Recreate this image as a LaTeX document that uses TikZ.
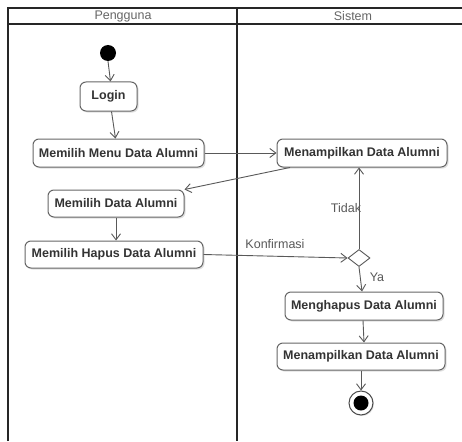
\documentclass[tikz,border=0pt]{standalone}
\usepackage{fontspec}
\setmainfont{Liberation Sans}
\usetikzlibrary{arrows.meta,shapes.geometric,shadows}
\begin{document}
\begin{tikzpicture}[x=1pt,y=-1pt,
  lane/.style={draw=black!85,line width=1.8pt},
  act/.style={draw=black!60,line width=1pt,rounded corners=6pt,fill=white,
    font=\fontsize{12.5}{15}\selectfont\bfseries,text=black!80,
    inner sep=0pt,
    drop shadow={shadow xshift=1.5pt,shadow yshift=-1.5pt,opacity=0.25,fill=black!50}},
  flow/.style={draw=black!65,line width=0.9pt,-{Straight Barb[length=6pt,width=9pt]}},
  lbl/.style={font=\fontsize{12.5}{15}\selectfont,text=black!65,inner sep=0pt},
  head/.style={font=\fontsize{12.5}{15}\selectfont,text=black!60,inner sep=0pt}]
\useasboundingbox (0,0) rectangle (462,441);
\fill[white] (0,0) rectangle (462,441);
% swimlane frame
\draw[lane] (8,441) -- (8,8) -- (462,8);
\draw[lane] (8,24) -- (462,24);
\draw[lane] (237,8) -- (237,441);
\node[head] (lanea) at (123,16) {Pengguna};
\node[head] (laneb) at (353,16) {Sistem};
% nodes
\node[circle,fill=black,minimum size=16pt,inner sep=0pt] (start) at (108,53) {};
\node[act,minimum width=57pt,minimum height=29pt] (login) at (108.5,96.5) {Login};
\node[act,minimum width=171pt,minimum height=28pt] (menu) at (118.5,153) {Memilih Menu Data Alumni};
\node[act,minimum width=170pt,minimum height=28pt] (tampil) at (362,153) {Menampilkan Data Alumni};
\node[act,minimum width=136pt,minimum height=27pt] (pilih) at (116,203.5) {Memilih Data Alumni};
\node[act,minimum width=178pt,minimum height=27pt] (hapus) at (114,254.5) {Memilih Hapus Data Alumni};
\node[diamond,draw=black!65,line width=0.9pt,fill=white,minimum width=22pt,minimum height=17pt,inner sep=0pt] (cek) at (359,258) {};
\node[act,minimum width=158pt,minimum height=28pt] (hps) at (364,306) {Menghapus Data Alumni};
\node[act,minimum width=168pt,minimum height=27pt] (tampilb) at (361,356.5) {Menampilkan Data Alumni};
\node[circle,draw=black!70,line width=1pt,fill=white,minimum size=24pt,inner sep=0pt,
  drop shadow={shadow xshift=1pt,shadow yshift=-1pt,opacity=0.25,fill=black!50}] (stop) at (361,403) {};
\node[circle,fill=black,minimum size=15pt,inner sep=0pt] (stopin) at (stop.center) {};
% connectors
\draw[flow] (start.south) -- ([xshift=2pt]login.north);
\draw[flow] ([xshift=3pt]login.south) -- ([xshift=-3pt]menu.north);
\draw[flow] (menu.east) -- (menu.east -| tampil.west);
\draw[flow] ([xshift=-72pt]tampil.south) -- (pilih.north east);
\draw[flow] (pilih.south) -- (pilih.south |- hapus.north);
\draw[flow] (hapus.east) -- (cek.west);
\draw[flow] (cek.north) -- (cek.north |- tampil.south);
\draw[flow] (cek.south) -- ([xshift=-2pt]hps.north);
\draw[flow] ([xshift=-1pt]hps.south) -- (hps.south |- tampilb.north);
\draw[flow] (tampilb.south) -- (stop.north);
% labels
\node[lbl] (konf) at (275,244) {Konfirmasi};
\node[lbl] (tdk) at (346,208) {Tidak};
\node[lbl] (ya) at (377,277) {Ya};
\end{tikzpicture}
\end{document}
